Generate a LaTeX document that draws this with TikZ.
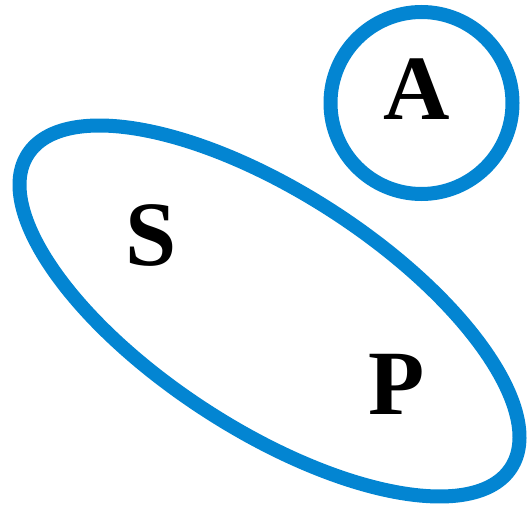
\documentclass[tikz,border=0pt]{standalone}
\usepackage{fontspec}
\setmainfont{Liberation Serif}
\usepackage{tikz}
\definecolor{setblue}{RGB}{3,133,210}
\tikzset{
  set/.style ={draw=setblue, line width=14pt},
  elt/.style ={font=\fontsize{92}{92}\selectfont\bfseries, inner sep=0pt, anchor=base},
}
\begin{document}
\begin{tikzpicture}[x=1pt, y=1pt]
  \useasboundingbox (0,0) rectangle (527,504);
  % the two sets
  \coordinate (cA) at (421.5,401);
  \coordinate (cSP) at (269.5,193);
  \draw[set] (cA) circle [radius=91];
  \draw[set, rotate around={-33:(cSP)}] (cSP) ellipse [x radius=288, y radius=118];
  % elements
  \node[elt] (eltA) at (417,384) {A};
  \node[elt] (eltS) at (151,239) {S};
  \node[elt] (eltP) at (397,90) {P};
\end{tikzpicture}
\end{document}
